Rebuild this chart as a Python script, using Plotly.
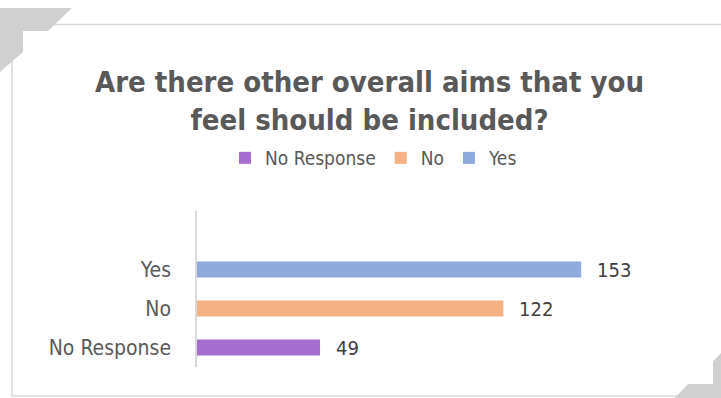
import plotly.graph_objects as go

# Survey responses
categories = ["No Response", "No", "Yes"]
counts = [49, 122, 153]
colors = ["#A66ED1", "#F4B183", "#8FAADC"]

W, H = 721, 398
FONT = "DejaVu Sans Condensed, DejaVu Sans, sans-serif"


def px(x):
    return x / W


def py(y):
    return 1 - y / H


fig = go.Figure()
for i, (cat, val, col) in enumerate(zip(categories, counts, colors)):
    fig.add_trace(go.Bar(
        x=[val], y=[i], orientation="h", name=cat,
        marker=dict(color=col, line=dict(width=0)),
        width=0.41, hoverinfo="skip",
    ))
    fig.add_annotation(
        x=val, y=i, xref="x", yref="y", text=str(val),
        showarrow=False, xanchor="left", xshift=14,
        font=dict(family=FONT, size=20, color="#404040"),
    )

# Chart frame and corner ornaments
GRAY_LINE = "#D9D9D9"
ORN = "#D0D0D0"


def path(points):
    return "M " + " L ".join(f"{px(a):.5f},{py(b):.5f}" for a, b in points) + " Z"


shapes = [
    dict(type="line", xref="paper", yref="paper", x0=px(48), y0=py(24.5), x1=px(721), y1=py(24.5),
         line=dict(color=GRAY_LINE, width=1.5)),
    dict(type="line", xref="paper", yref="paper", x0=px(12), y0=py(60), x1=px(12), y1=py(396),
         line=dict(color=GRAY_LINE, width=1.5)),
    dict(type="line", xref="paper", yref="paper", x0=px(12), y0=py(396), x1=px(680), y1=py(396),
         line=dict(color=GRAY_LINE, width=1.5)),
    dict(type="path", xref="paper", yref="paper",
         path=path([(0, 8), (72, 8), (48, 31), (23, 31), (23, 52), (0, 72)]),
         fillcolor=ORN, line=dict(width=0)),
    dict(type="path", xref="paper", yref="paper",
         path=path([(721, 353), (713, 361.5), (713, 384), (688, 384), (675, 398), (721, 398)]),
         fillcolor=ORN, line=dict(width=0)),
]

fig.add_annotation(
    x=px(369), y=py(101), xref="paper", yref="paper", showarrow=False,
    text="<b>Are there other overall aims that you<br>feel should be included?</b>",
    font=dict(family=FONT, size=29, color="#595959"),
    align="center", xanchor="center", yanchor="middle",
)

fig.update_layout(
    width=W, height=H,
    margin=dict(l=0, r=0, t=0, b=0),
    paper_bgcolor="white", plot_bgcolor="white",
    barmode="overlay",
    shapes=shapes,
    showlegend=True,
    legend=dict(
        orientation="h", x=px(374), xanchor="center", y=py(158), yanchor="middle",
        font=dict(family=FONT, size=19, color="#595959"),
        itemwidth=30, traceorder="normal", bgcolor="rgba(0,0,0,0)",
    ),
    xaxis=dict(
        domain=[px(197), px(649)], range=[0, 180],
        showgrid=False, zeroline=False, showticklabels=False, showline=False,
    ),
    yaxis=dict(
        domain=[py(367), py(211)], range=[-0.5, 3.5],
        tickvals=list(range(len(categories))), ticktext=categories,
        showgrid=False, zeroline=False, showline=True,
        linecolor=GRAY_LINE, linewidth=1.5, ticks="",
        ticklabelstandoff=20,
        tickfont=dict(family=FONT, size=21, color="#595959"),
    ),
)

fig.write_html("out.html")
